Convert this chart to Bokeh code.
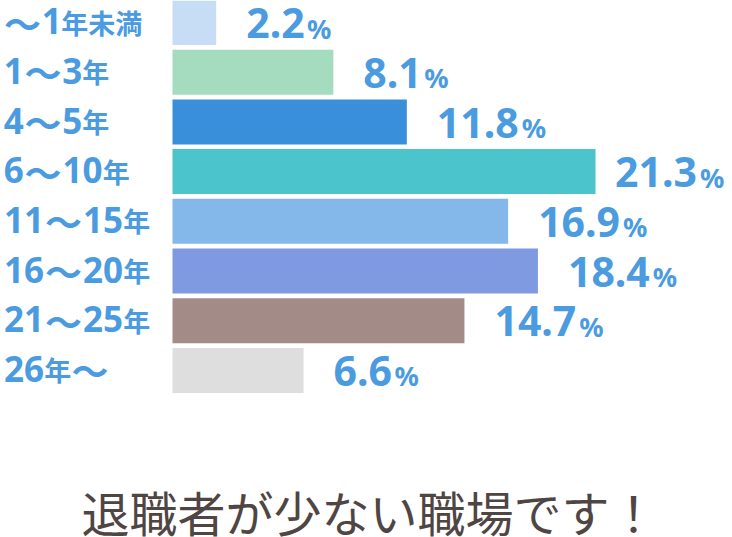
from bokeh.plotting import figure
from bokeh.models import ColumnDataSource, Range1d, Label
from bokeh.core.properties import value
from bokeh.embed import file_html
from bokeh.resources import INLINE

categories = ["〜1年未満", "1〜3年", "4〜5年", "6〜10年", "11〜15年", "16〜20年", "21〜25年", "26年〜"]
values = [2.2, 8.1, 11.8, 21.3, 16.9, 18.4, 14.7, 6.6]
colors = ["#c6ddf5", "#a5dcc0", "#3a8fda", "#4bc4cc", "#84b8ea", "#7f9ae0", "#a38b88", "#dedede"]
caption = "退職者が少ない職場です！"

W, H = 732, 537
label_color = "#4b9be1"
num_px = 41
pct_px = 27

# layout: bar i centred at 22 + pitch*i px, x=0 at x0 px
pitch = 49.7
scale = 19.86
x0 = 172
BL = 0.35  # empirical shift of the alphabetic baseline in em


def base_off(desired, size):
    return desired - BL * size


idx = list(range(len(categories)))
nums = [f"{v:.1f}" for v in values]


def num_width(s, px):
    return sum(0.29 if ch == "." else 0.585 for ch in s) * px


# value label offsets: ~30px after bar, kept inside the picture
val_off = []
pct_off = []
for v, s in zip(values, nums):
    nw = num_width(s, num_px)
    total = nw + 0.8 * pct_px
    end_px = x0 + v * scale
    off = min(30, W - 12 - end_px - total)
    val_off.append(off)
    pct_off.append(off + nw + 1)

src = ColumnDataSource(dict(
    y=idx, v=values, col=colors, num=nums,
    pct=["%"] * len(values), val_off=val_off, pct_off=pct_off,
))

# category labels: digits larger (Latin font), wave dash and kanji in CJK font
seg = dict(y=[], t=[], xo=[], yo=[], font=[], size=[])
for i, c in enumerate(categories):
    runs = []
    for ch in c:
        kind = "d" if ch.isdigit() else ("w" if ch == "〜" else "k")
        if runs and runs[-1][0] == kind and kind != "w":
            runs[-1][1] += ch
        else:
            runs.append([kind, ch])
    x = 3
    for kind, txt in runs:
        if kind == "d":
            w, font, size, yo = 20.5 * len(txt), "Noto Sans", 35, base_off(11, 35)
        elif kind == "w":
            w, font, size, yo = 38, "Noto Sans CJK JP", 37, base_off(13, 37)
        else:
            w, font, size, yo = 26.5 * len(txt), "Noto Sans CJK JP", 27, base_off(9, 27)
        seg["y"].append(i)
        seg["t"].append(txt)
        seg["xo"].append(x + w / 2)
        seg["yo"].append(yo)
        seg["font"].append(font)
        seg["size"].append(f"{size}px")
        x += w
seg_src = ColumnDataSource(seg)

y_top = -22 / pitch
y_bot = (H - 22) / pitch
p = figure(width=W, height=H, output_backend="svg", toolbar_location=None,
           x_range=Range1d(-x0 / scale, (W - x0) / scale),
           y_range=Range1d(y_bot, y_top),
           min_border=0, min_border_left=0, min_border_right=0,
           min_border_top=0, min_border_bottom=0)
p.axis.visible = False
p.grid.visible = False
p.outline_line_color = None
p.background_fill_color = "white"
p.border_fill_color = "white"

p.hbar(y="y", left=0, right="v", height=45 / pitch, fill_color="col",
       line_color=None, source=src)

p.text(x=-x0 / scale, y="y", text="t", x_offset="xo", y_offset="yo",
       text_align="center", text_baseline="alphabetic",
       text_font="font", text_font_style="bold",
       text_font_size="size", text_color=label_color, source=seg_src)

p.text(x="v", y="y", text="num", x_offset="val_off", y_offset=base_off(15, num_px),
       text_align="left", text_baseline="alphabetic",
       text_font=value("Noto Sans"), text_font_style="bold",
       text_font_size=f"{num_px}px", text_color=label_color, source=src)

p.text(x="v", y="y", text="pct", x_offset="pct_off", y_offset=base_off(15, pct_px),
       text_align="left", text_baseline="alphabetic",
       text_font=value("Noto Sans"), text_font_style="bold",
       text_font_size=f"{pct_px}px", text_color=label_color, source=src)

p.add_layout(Label(x=W / 2 + 3, y=H - 510, x_units="screen", y_units="screen",
                   text=caption, text_align="center", text_baseline="middle",
                   text_font="Noto Sans CJK JP", text_font_size="48px",
                   text_color="#4f4542"))

open("out.html", "w").write(file_html(p, INLINE))
